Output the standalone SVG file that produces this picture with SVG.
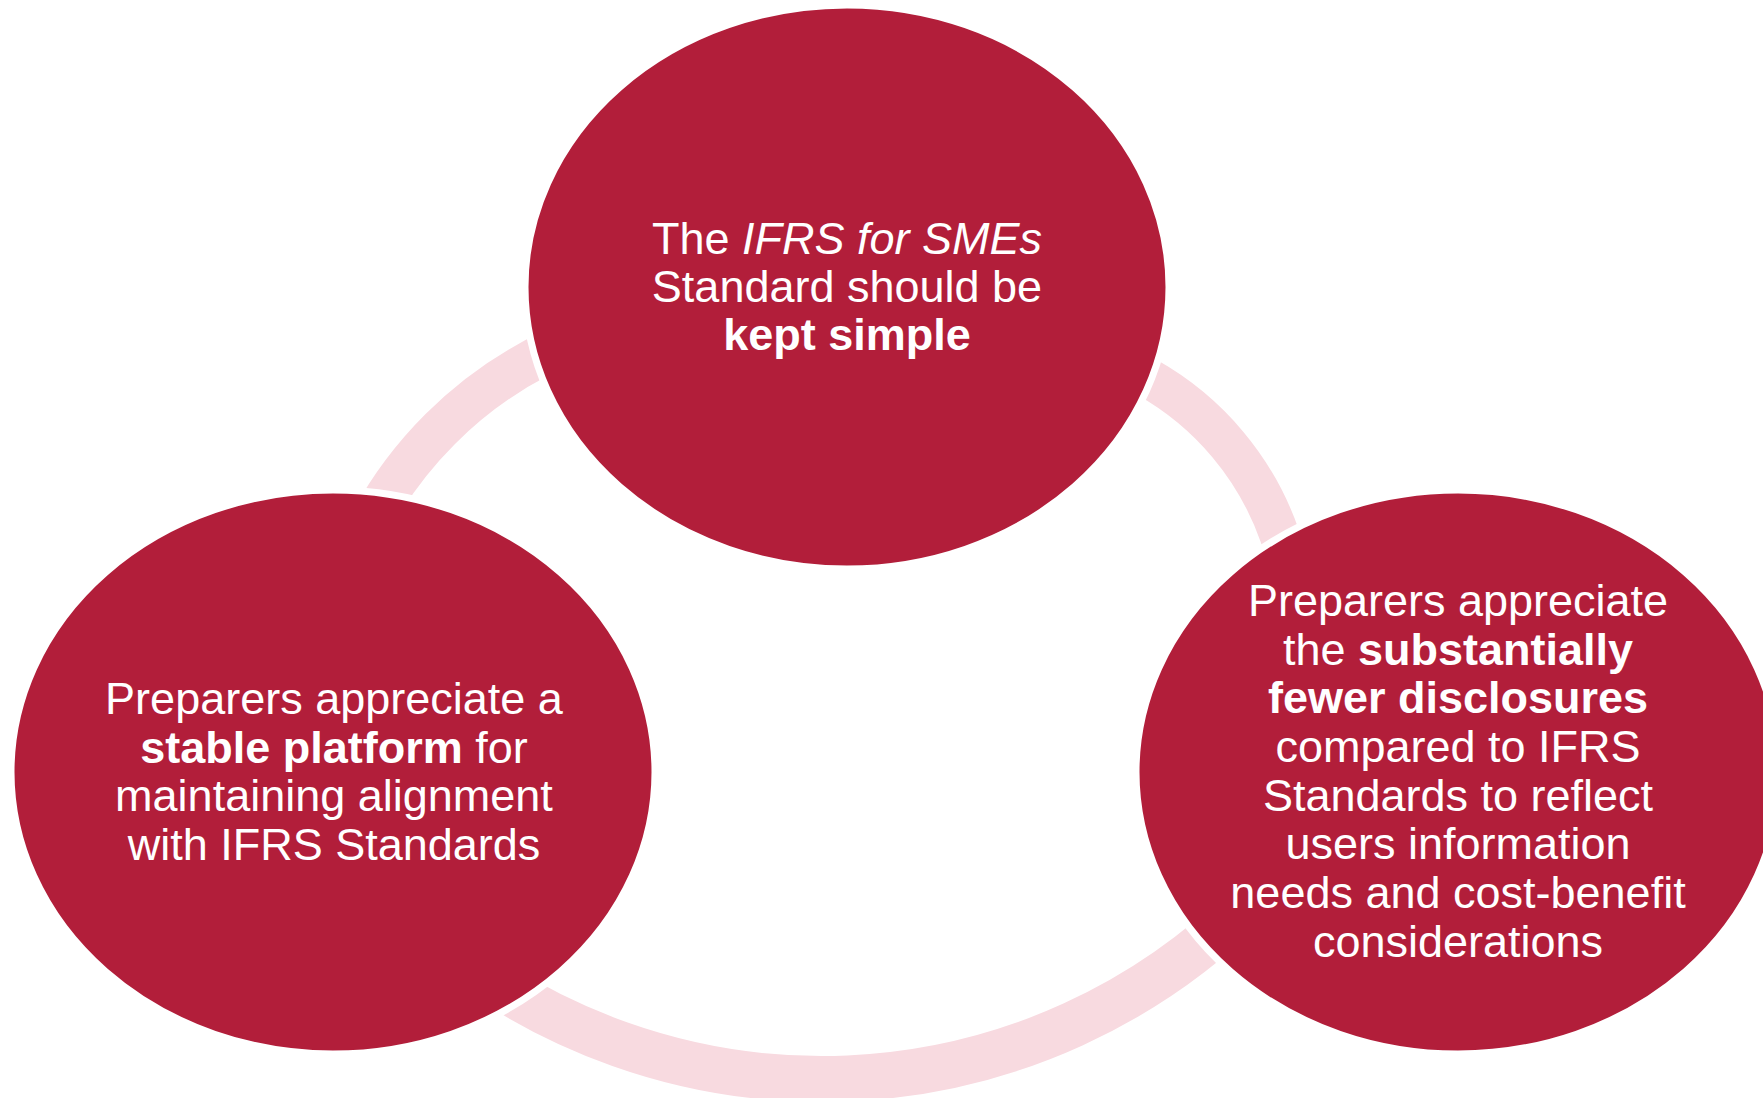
<svg xmlns="http://www.w3.org/2000/svg" width="1763" height="1098" viewBox="0 0 1763 1098">
<style>
.arc{fill:none;stroke:#F8DAE0;}
.node{fill:#B21E3A;stroke:#FFFFFF;stroke-width:7;}
.lbl{font-family:"Liberation Sans",Arial,sans-serif;font-size:45px;fill:#FFFFFF;text-anchor:middle;}
.b{font-weight:bold;}
.i{font-style:italic;}
</style>
<rect x="0" y="0" width="1763" height="1098" fill="#FFFFFF"/>
<g id="connectors">
<path class="arc" stroke-width="42" d="M347.1,575.2 A400,400 0 0 1 586.2,336.1"/>
<path class="arc" stroke-width="40" d="M1054.7,344.4 A292,292 0 0 1 1296,632"/>
<path class="arc" stroke-width="46" d="M1249.8,901.8 A605,605 0 0 1 433.1,937.4"/>
</g>
<g id="node-top">
<ellipse class="node" cx="847" cy="287" rx="322" ry="282"/>
<text class="lbl" x="847" y="254">The <tspan class="i">IFRS for SMEs</tspan></text>
<text class="lbl" x="847" y="302">Standard should be</text>
<text class="lbl b" x="847" y="350">kept simple</text>
</g>
<g id="node-left">
<ellipse class="node" cx="333" cy="772" rx="322" ry="282"/>
<text class="lbl" x="334" y="714">Preparers appreciate a</text>
<text class="lbl" x="334" y="762.5"><tspan class="b">stable platform</tspan> for</text>
<text class="lbl" x="334" y="811">maintaining alignment</text>
<text class="lbl" x="334" y="859.5">with IFRS Standards</text>
</g>
<g id="node-right">
<ellipse class="node" cx="1458" cy="772" rx="322" ry="282"/>
<text class="lbl" x="1458" y="616">Preparers appreciate</text>
<text class="lbl" x="1458" y="665">the <tspan class="b">substantially</tspan></text>
<text class="lbl b" x="1458" y="713">fewer disclosures</text>
<text class="lbl" x="1458" y="762">compared to IFRS</text>
<text class="lbl" x="1458" y="811">Standards to reflect</text>
<text class="lbl" x="1458" y="859">users information</text>
<text class="lbl" x="1458" y="908">needs and cost-benefit</text>
<text class="lbl" x="1458" y="957">considerations</text>
</g>
</svg>
